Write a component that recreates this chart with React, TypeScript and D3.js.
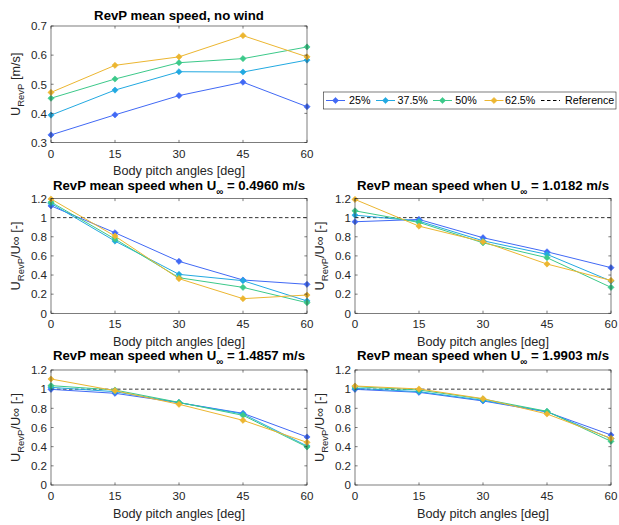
import React from "react";
import * as d3 from "d3";

const angles = [0, 15, 30, 45, 60];
const seriesNames = ["25%", "37.5%", "50%", "62.5%"];
const seriesColors = ["#4169f5", "#22a9e1", "#3cc98a", "#ecb630"];

const noWind = [
  [0.326, 0.395, 0.461, 0.507, 0.423],
  [0.394, 0.480, 0.543, 0.542, 0.583],
  [0.452, 0.518, 0.574, 0.588, 0.628],
  [0.472, 0.565, 0.594, 0.667, 0.594],
];

const ratio0496 = [
  [1.123, 0.842, 0.543, 0.348, 0.303],
  [1.148, 0.755, 0.407, 0.341, 0.129],
  [1.162, 0.776, 0.372, 0.271, 0.111],
  [1.195, 0.807, 0.362, 0.153, 0.191],
];
const ratio1018 = [
  [0.957, 0.981, 0.790, 0.643, 0.477],
  [1.026, 0.963, 0.758, 0.616, 0.337],
  [1.071, 0.950, 0.737, 0.581, 0.271],
  [1.190, 0.911, 0.748, 0.515, 0.344],
];
const ratio1486 = [
  [0.998, 0.957, 0.859, 0.748, 0.501],
  [1.019, 0.974, 0.859, 0.741, 0.407],
  [1.037, 0.991, 0.862, 0.727, 0.397],
  [1.106, 0.984, 0.842, 0.675, 0.445],
];
const ratio1990 = [
  [0.998, 0.967, 0.877, 0.762, 0.522],
  [1.009, 0.974, 0.884, 0.765, 0.483],
  [1.026, 0.991, 0.897, 0.769, 0.456],
  [1.033, 1.002, 0.901, 0.741, 0.487],
];

const uInfValues = ["0.4960", "1.0182", "1.4857", "1.9903"];
const topYTicks = [0.3, 0.4, 0.5, 0.6, 0.7];
const ratioYTicks = [0, 0.2, 0.4, 0.6, 0.8, 1, 1.2];
const xTicks = [0, 15, 30, 45, 60];

const FONT = "'Liberation Sans', Arial, Helvetica, sans-serif";
const AX = "#262626";
const TICK_FS = 11.6;
const LABEL_FS = 12.7;
const TITLE_FS = 13.2;

type PanelProps = {
  x0: number; x1: number; y0: number; y1: number;
  yDomain: [number, number];
  yTicks: number[];
  data: number[][];
  title: React.ReactNode;
  ylabel: React.ReactNode;
  refLine: boolean;
  titleDy: number;
};

function Diamond({ cx, cy, color }: { cx: number; cy: number; color: string }) {
  const s = 3.1;
  return (
    <path d={`M${cx},${cy - s}L${cx + s},${cy}L${cx},${cy + s}L${cx - s},${cy}Z`} fill={color} stroke={color} strokeWidth={0.6} />
  );
}

function Panel(p: PanelProps) {
  const xs = d3.scaleLinear().domain([0, 60]).range([p.x0, p.x1]);
  const ys = d3.scaleLinear().domain(p.yDomain).range([p.y1, p.y0]);
  const line = d3.line<number>().x((_, i) => xs(angles[i])).y((v) => ys(v));
  const tl = 2.6;
  return (
    <g>
      {p.refLine && (
        <line x1={p.x0} x2={p.x1} y1={ys(1)} y2={ys(1)} stroke="#000" strokeWidth={0.8} strokeDasharray="3.5,2.5" />
      )}
      {p.data.map((s, i) => (
        <g key={i}>
          <path d={line(s) || ""} fill="none" stroke={seriesColors[i]} strokeWidth={1} />
          {s.map((v, j) => (
            <Diamond key={j} cx={xs(angles[j])} cy={ys(v)} color={seriesColors[i]} />
          ))}
        </g>
      ))}
      <rect x={p.x0} y={p.y0} width={p.x1 - p.x0} height={p.y1 - p.y0} fill="none" stroke={AX} strokeWidth={0.6} />
      {xTicks.map((t) => (
        <g key={"x" + t}>
          <line x1={xs(t)} x2={xs(t)} y1={p.y1} y2={p.y1 - tl} stroke={AX} strokeWidth={0.6} />
          <line x1={xs(t)} x2={xs(t)} y1={p.y0} y2={p.y0 + tl} stroke={AX} strokeWidth={0.6} />
          <text x={xs(t)} y={p.y1 + 15} textAnchor="middle" fontSize={TICK_FS} fill={AX} fontFamily={FONT}>{t}</text>
        </g>
      ))}
      {p.yTicks.map((t) => (
        <g key={"y" + t}>
          <line x1={p.x0} x2={p.x0 + tl} y1={ys(t)} y2={ys(t)} stroke={AX} strokeWidth={0.6} />
          <line x1={p.x1} x2={p.x1 - tl} y1={ys(t)} y2={ys(t)} stroke={AX} strokeWidth={0.6} />
          <text x={p.x0 - 4} y={ys(t) + 4.3} textAnchor="end" fontSize={TICK_FS} fill={AX} fontFamily={FONT}>{String(t)}</text>
        </g>
      ))}
      <text x={(p.x0 + p.x1) / 2} y={p.y1 + 32.8} textAnchor="middle" fontSize={LABEL_FS} fill={AX} fontFamily={FONT}>
        Body pitch angles [deg]
      </text>
      <text transform={`translate(${p.x0 - 31.5},${(p.y0 + p.y1) / 2}) rotate(-90)`} textAnchor="middle" fontSize={LABEL_FS} fill={AX} fontFamily={FONT}>
        {p.ylabel}
      </text>
      <text x={(p.x0 + p.x1) / 2} y={p.y0 - p.titleDy} textAnchor="middle" fontSize={TITLE_FS} fontWeight="bold" fill="#000" fontFamily={FONT}>
        {p.title}
      </text>
    </g>
  );
}

function subTitle(v: string) {
  return (
    <>
      <tspan>RevP mean speed when U</tspan>
      <tspan fontSize={TITLE_FS * 0.75} dy={5}>∞</tspan>
      <tspan dy={-5}> = {v} m/s</tspan>
    </>
  );
}

const ratioLabel = (
  <>
    <tspan>U</tspan>
    <tspan fontSize={LABEL_FS * 0.75} dy={4}>RevP</tspan>
    <tspan dy={-4}>/U∞ [-]</tspan>
  </>
);

const topLabel = (
  <>
    <tspan>U</tspan>
    <tspan fontSize={LABEL_FS * 0.75} dy={4}>RevP</tspan>
    <tspan dy={-4}> [m/s]</tspan>
  </>
);

function Legend() {
  const x = 323.3, y = 92, w = 292.7, h = 17;
  const items = [
    { name: seriesNames[0], lx: 326, tx: 349, color: seriesColors[0], dash: false },
    { name: seriesNames[1], lx: 376, tx: 397.5, color: seriesColors[1], dash: false },
    { name: seriesNames[2], lx: 433, tx: 455.3, color: seriesColors[2], dash: false },
    { name: seriesNames[3], lx: 484.5, tx: 505, color: seriesColors[3], dash: false },
    { name: "Reference", lx: 541, tx: 565, color: "#000", dash: true },
  ];
  const cy = y + h / 2;
  return (
    <g>
      <rect x={x} y={y} width={w} height={h} fill="#fff" stroke={AX} strokeWidth={0.6} />
      {items.map((it) => (
        <g key={it.name}>
          <line x1={it.lx} x2={it.lx + 19} y1={cy} y2={cy} stroke={it.color} strokeWidth={1}
            strokeDasharray={it.dash ? "3.5,2.5" : undefined} />
          {!it.dash && <Diamond cx={it.lx + 9.5} cy={cy} color={it.color} />}
          <text x={it.tx} y={cy + 3.8} fontSize={10.7} fill="#000" fontFamily={FONT}>{it.name}</text>
        </g>
      ))}
    </g>
  );
}

export default function App() {
  const L = { x0: 51, x1: 307 };
  const R = { x0: 355, x1: 611 };
  const r1 = { y0: 198.5, y1: 313.3 };
  const r2 = { y0: 370, y1: 485 };
  return (
    <svg width={619} height={525} style={{ position: "absolute", left: 0, top: 0, background: "#fff" }}>
      <rect width={619} height={525} fill="#fff" />
      <Panel {...L} y0={26} y1={142.5} yDomain={[0.3, 0.7]} yTicks={topYTicks} data={noWind}
        title="RevP mean speed, no wind" ylabel={topLabel} refLine={false} titleDy={6} />
      <Panel {...L} {...r1} yDomain={[0, 1.2]} yTicks={ratioYTicks} data={ratio0496}
        title={subTitle(uInfValues[0])} ylabel={ratioLabel} refLine={true} titleDy={8.8} />
      <Panel {...R} {...r1} yDomain={[0, 1.2]} yTicks={ratioYTicks} data={ratio1018}
        title={subTitle(uInfValues[1])} ylabel={ratioLabel} refLine={true} titleDy={8.8} />
      <Panel {...L} {...r2} yDomain={[0, 1.2]} yTicks={ratioYTicks} data={ratio1486}
        title={subTitle(uInfValues[2])} ylabel={ratioLabel} refLine={true} titleDy={9.8} />
      <Panel {...R} {...r2} yDomain={[0, 1.2]} yTicks={ratioYTicks} data={ratio1990}
        title={subTitle(uInfValues[3])} ylabel={ratioLabel} refLine={true} titleDy={9.8} />
      <Legend />
    </svg>
  );
}
